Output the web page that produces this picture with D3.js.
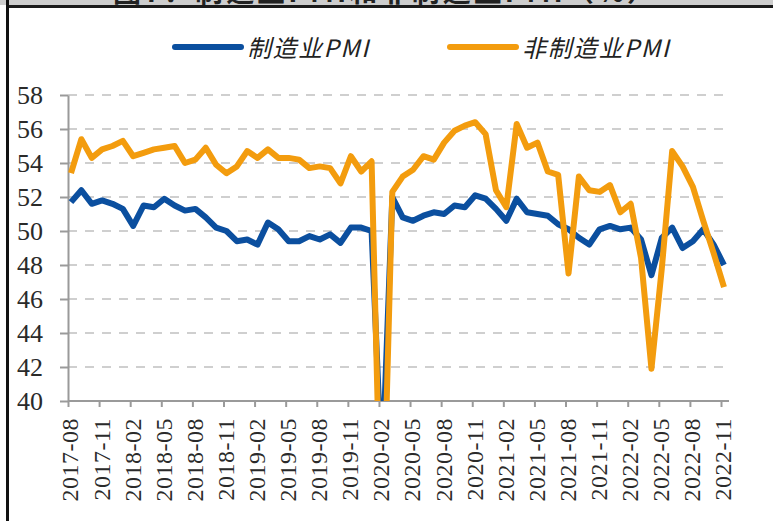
<!DOCTYPE html>
<html>
<head>
<meta charset="utf-8">
<script src="https://cdn.jsdelivr.net/npm/d3@7"></script>
<style>
  body { margin: 0; background: #fff; }
  svg { display: block; }
</style>
</head>
<body>
<div id="chart"></div>
<script>
// 月份（2017-08 至 2022-11）
const months = [
  "2017-08","2017-09","2017-10","2017-11","2017-12",
  "2018-01","2018-02","2018-03","2018-04","2018-05","2018-06","2018-07","2018-08","2018-09","2018-10","2018-11","2018-12",
  "2019-01","2019-02","2019-03","2019-04","2019-05","2019-06","2019-07","2019-08","2019-09","2019-10","2019-11","2019-12",
  "2020-01","2020-02","2020-03","2020-04","2020-05","2020-06","2020-07","2020-08","2020-09","2020-10","2020-11","2020-12",
  "2021-01","2021-02","2021-03","2021-04","2021-05","2021-06","2021-07","2021-08","2021-09","2021-10","2021-11","2021-12",
  "2022-01","2022-02","2022-03","2022-04","2022-05","2022-06","2022-07","2022-08","2022-09","2022-10","2022-11"
];

const mfgPMI = [
  51.7, 52.4, 51.6, 51.8, 51.6,
  51.3, 50.3, 51.5, 51.4, 51.9, 51.5, 51.2, 51.3, 50.8, 50.2, 50.0, 49.4,
  49.5, 49.2, 50.5, 50.1, 49.4, 49.4, 49.7, 49.5, 49.8, 49.3, 50.2, 50.2,
  50.0, 35.7, 52.0, 50.8, 50.6, 50.9, 51.1, 51.0, 51.5, 51.4, 52.1, 51.9,
  51.3, 50.6, 51.9, 51.1, 51.0, 50.9, 50.4, 50.1, 49.6, 49.2, 50.1, 50.3,
  50.1, 50.2, 49.5, 47.4, 49.6, 50.2, 49.0, 49.4, 50.1, 49.2, 48.0
];

const nonMfgPMI = [
  53.4, 55.4, 54.3, 54.8, 55.0,
  55.3, 54.4, 54.6, 54.8, 54.9, 55.0, 54.0, 54.2, 54.9, 53.9, 53.4, 53.8,
  54.7, 54.3, 54.8, 54.3, 54.3, 54.2, 53.7, 53.8, 53.7, 52.8, 54.4, 53.5,
  54.1, 29.6, 52.3, 53.2, 53.6, 54.4, 54.2, 55.2, 55.9, 56.2, 56.4, 55.7,
  52.4, 51.4, 56.3, 54.9, 55.2, 53.5, 53.3, 47.5, 53.2, 52.4, 52.3, 52.7,
  51.1, 51.6, 48.4, 41.9, 47.8, 54.7, 53.8, 52.6, 50.6, 48.7, 46.7
];

const yTicks = [40, 42, 44, 46, 48, 50, 52, 54, 56, 58];
const xTickLabels = [
  "2017-08","2017-11","2018-02","2018-05","2018-08","2018-11","2019-02","2019-05",
  "2019-08","2019-11","2020-02","2020-05","2020-08","2020-11","2021-02","2021-05",
  "2021-08","2021-11","2022-02","2022-05","2022-08","2022-11"
];
const seriesNames = ["制造业PMI", "非制造业PMI"];
const seriesColors = ["#0b4f9f", "#f39c0e"];
const titleText = "图7：制造业PMI和非制造业PMI（%）";

const width = 773, height = 521;
const serif = "'Liberation Serif', 'Times New Roman', serif";
const cjk = "'Noto Sans CJK SC', 'Noto Sans', sans-serif";

const svg = d3.select("#chart").append("svg")
  .attr("width", width)
  .attr("height", height);

// 页面上方被截断的标题栏
svg.append("clipPath").attr("id", "titleClip")
  .append("rect").attr("x", 0).attr("y", 0).attr("width", width).attr("height", 5);
svg.append("rect")
  .attr("x", 0).attr("y", 0).attr("width", width).attr("height", 5)
  .attr("fill", "#cdcdcd");
svg.append("text")
  .attr("clip-path", "url(#titleClip)")
  .attr("x", 113).attr("y", 1.5)
  .attr("textLength", 542)
  .style("font-family", cjk)
  .style("font-size", "28px")
  .style("font-weight", "bold")
  .style("fill", "#222")
  .text(titleText);
svg.append("rect")
  .attr("x", 6).attr("y", 5).attr("width", width - 6).attr("height", 3)
  .attr("fill", "#1a1a1a");
svg.append("rect")
  .attr("x", 6).attr("y", 0).attr("width", 3).attr("height", height)
  .attr("fill", "#111");

const x = d3.scalePoint().domain(months).range([71, 724]);
const y = d3.scaleLinear().domain([40, 58]).range([401, 95]);

// 网格虚线
svg.append("g")
  .selectAll("line")
  .data(yTicks.slice(1))
  .join("line")
  .attr("x1", 68)
  .attr("x2", 729)
  .attr("y1", d => y(d))
  .attr("y2", d => y(d))
  .attr("stroke", "#cfcfcf")
  .attr("stroke-width", 2)
  .attr("stroke-dasharray", "9,8");

// Y 轴
const yAxis = svg.append("g")
  .attr("transform", "translate(68,0)")
  .call(d3.axisLeft(y).tickValues(yTicks).tickSize(8).tickSizeOuter(0).tickPadding(17));
yAxis.select(".domain").attr("stroke", "#9a9a9a").attr("stroke-width", 2);
yAxis.selectAll(".tick line").attr("stroke", "#9a9a9a").attr("stroke-width", 2);
yAxis.selectAll(".tick text")
  .style("font-family", serif)
  .style("font-size", "26px")
  .style("fill", "#2a2a2a");

// X 轴
const xAxis = svg.append("g")
  .attr("transform", "translate(0,401)")
  .call(d3.axisBottom(x).tickValues(xTickLabels).tickSize(6).tickSizeOuter(0));
xAxis.select(".domain").remove();
xAxis.append("line")
  .attr("x1", x.range()[0] - 3)
  .attr("x2", x.range()[1] + 5)
  .attr("stroke", "#9a9a9a")
  .attr("stroke-width", 2);
xAxis.selectAll(".tick line")
  .attr("transform", "translate(-3,0)")
  .attr("stroke", "#9a9a9a")
  .attr("stroke-width", 2);
xAxis.selectAll(".tick text")
  .attr("transform", "rotate(-90)")
  .attr("x", -17)
  .attr("y", -1.5)
  .attr("dy", "0.35em")
  .style("text-anchor", "end")
  .style("font-family", serif)
  .style("font-size", "24px")
  .style("letter-spacing", "0.5px")
  .style("fill", "#2a2a2a");

// 折线（低于 40 的部分被截掉）
svg.append("clipPath").attr("id", "plotClip")
  .append("rect").attr("x", 55).attr("y", 80).attr("width", 690).attr("height", 321);

const line = d3.line()
  .x((d, i) => x(months[i]))
  .y(d => y(d));

[mfgPMI, nonMfgPMI].forEach((values, k) => {
  svg.append("path")
    .datum(values)
    .attr("clip-path", "url(#plotClip)")
    .attr("fill", "none")
    .attr("stroke", seriesColors[k])
    .attr("stroke-width", 6)
    .attr("stroke-linejoin", "round")
    .attr("d", line);
});

// 图例
const legendX = [175, 450];
seriesNames.forEach((name, k) => {
  const g = svg.append("g").attr("transform", `translate(${legendX[k]},47)`);
  g.append("line")
    .attr("x1", 0).attr("x2", 66)
    .attr("stroke", seriesColors[k])
    .attr("stroke-width", 6)
    .attr("stroke-linecap", "round");
  g.append("text")
    .attr("x", 72)
    .attr("y", 10)
    .style("font-family", cjk)
    .style("font-size", "24px")
    .style("font-style", "italic")
    .style("letter-spacing", "1.5px")
    .style("fill", "#222")
    .text(name);
});
</script>
</body>
</html>
